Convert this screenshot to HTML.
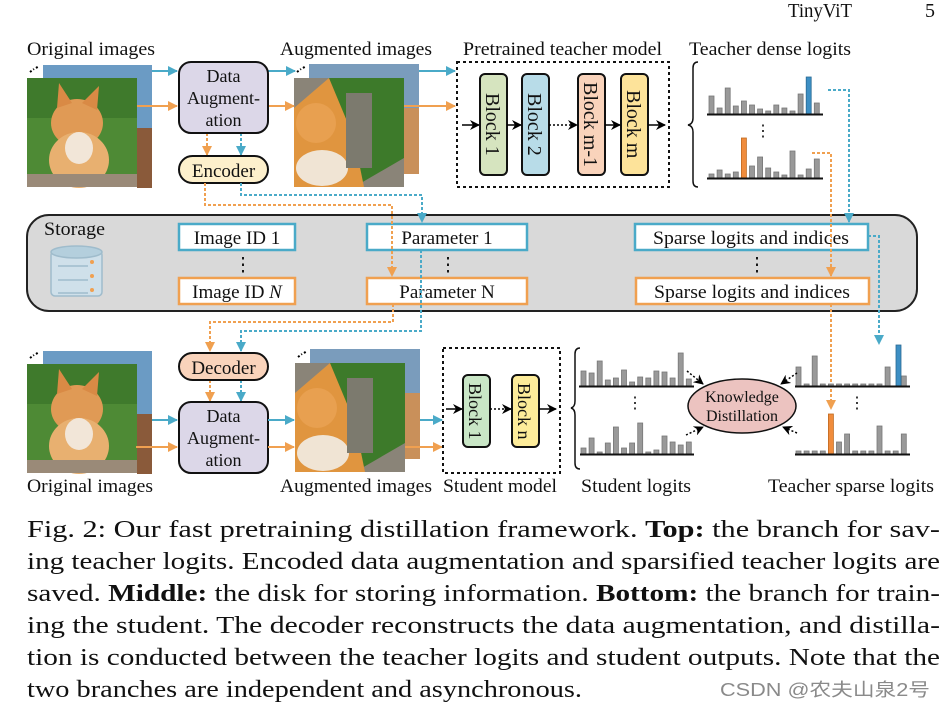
<!DOCTYPE html>
<html><head><meta charset="utf-8"><style>
html,body{margin:0;padding:0;background:#fff;}
svg{display:block;}
text{font-family:"Liberation Serif","Noto Serif CJK SC",serif;fill:#111;}
</style></head><body>
<svg width="946" height="707" viewBox="0 0 946 707" xmlns="http://www.w3.org/2000/svg">
<defs>
<marker id="mb" markerWidth="10" markerHeight="10" refX="9" refY="5" orient="auto" markerUnits="userSpaceOnUse"><path d="M0,0 L10,5 L0,10 z" fill="#4aaac8"/></marker>
<marker id="mo" markerWidth="10" markerHeight="10" refX="9" refY="5" orient="auto" markerUnits="userSpaceOnUse"><path d="M0,0 L10,5 L0,10 z" fill="#f0a050"/></marker>
<marker id="mk" markerWidth="10" markerHeight="10" refX="9" refY="5" orient="auto" markerUnits="userSpaceOnUse"><path d="M0,0 L10,5 L0,10 L3,5 z" fill="#000"/></marker>
<g id="orig">
  <rect x="16" y="-13" width="109" height="108" fill="#6b9bc4"/>
  <rect x="110" y="50" width="15" height="60" fill="#8a5a3a"/>
  <rect x="0" y="0" width="110" height="109" fill="#4e8a35"/>
  <rect x="0" y="0" width="110" height="40" fill="#3f7a2c"/>
  <ellipse cx="50" cy="45" rx="26" ry="24" fill="#e09a55"/>
  <path d="M30,30 L32,5 L45,25 Z M55,25 L72,8 L70,32 Z" fill="#d98a45"/>
  <ellipse cx="52" cy="82" rx="30" ry="28" fill="#e8b070"/>
  <ellipse cx="52" cy="70" rx="14" ry="16" fill="#f2e6d8"/>
  <rect x="0" y="96" width="110" height="13" fill="#9a8a78"/>
  <path d="M3,-6 l4,-3 M9,-10 l3,-2" stroke="#000" stroke-width="2" stroke-dasharray="2,2"/>
</g>
<g id="aug">
  <rect x="15" y="-14" width="110" height="110" fill="#7a9cbc"/>
  <rect x="110" y="30" width="15" height="66" fill="#c9905a"/>
  <rect x="0" y="0" width="110" height="109" fill="#8a8478"/>
  <path d="M35,0 L110,0 L110,80 L60,109 L0,109 L0,50 Z" fill="#3d7a2a"/>
  <path d="M0,30 L35,0 L60,60 L70,109 L0,109 Z" fill="#e0953f"/>
  <ellipse cx="22" cy="45" rx="20" ry="20" fill="#e8a050"/>
  <ellipse cx="28" cy="90" rx="26" ry="18" fill="#f0e4d4"/>
  <rect x="52" y="15" width="26" height="75" fill="#7c7a6e"/>
  <path d="M3,-6 l4,-3 M9,-10 l3,-2" stroke="#000" stroke-width="2" stroke-dasharray="2,2"/>
</g>
</defs>

<!-- header -->
<text x="788" y="17" font-size="20" textLength="64" lengthAdjust="spacingAndGlyphs">TinyViT</text>
<text x="925" y="17" font-size="20">5</text>

<!-- top labels -->
<g font-size="19" lengthAdjust="spacingAndGlyphs">
<text x="27" y="55" textLength="128" lengthAdjust="spacingAndGlyphs">Original images</text>
<text x="280" y="55" textLength="152" lengthAdjust="spacingAndGlyphs">Augmented images</text>
<text x="463" y="55" textLength="199" lengthAdjust="spacingAndGlyphs">Pretrained teacher model</text>
<text x="689" y="55" textLength="162" lengthAdjust="spacingAndGlyphs">Teacher dense logits</text>
</g>

<use href="#orig" x="27" y="78"/>
<use href="#aug" x="294" y="78"/>

<!-- top arrows -->
<g stroke-width="2" fill="none">
<line x1="152" y1="71" x2="177" y2="71" stroke="#4aaac8" marker-end="url(#mb)"/>
<line x1="137" y1="106" x2="177" y2="106" stroke="#f0a050" marker-end="url(#mo)"/>
<line x1="268" y1="71" x2="295" y2="71" stroke="#4aaac8" marker-end="url(#mb)"/>
<line x1="268" y1="106" x2="294" y2="106" stroke="#f0a050" marker-end="url(#mo)"/>
<line x1="419" y1="71" x2="455" y2="71" stroke="#4aaac8" marker-end="url(#mb)"/>
<line x1="404" y1="106" x2="455" y2="106" stroke="#f0a050" marker-end="url(#mo)"/>
<line x1="207" y1="133" x2="207" y2="155" stroke="#f0a050" stroke-dasharray="3,2" marker-end="url(#mo)"/>
<line x1="241" y1="133" x2="241" y2="155" stroke="#4aaac8" stroke-dasharray="3,2" marker-end="url(#mb)"/>
</g>

<rect x="179" y="62" width="89" height="71" rx="12" fill="#dcd7e8" stroke="#111" stroke-width="2"/>
<text x="223.5" y="82" font-size="18" text-anchor="middle">Data</text>
<text x="223.5" y="104" font-size="18" text-anchor="middle">Augment-</text>
<text x="223.5" y="126" font-size="18" text-anchor="middle">ation</text>
<rect x="179" y="156" width="89" height="27" rx="13.5" fill="#fdf0cc" stroke="#111" stroke-width="2"/>
<text x="223.5" y="177" font-size="19" text-anchor="middle">Encoder</text>

<!-- teacher model -->
<rect x="457" y="62" width="212" height="125" fill="none" stroke="#111" stroke-width="2" stroke-dasharray="3,3"/>
<rect x="480" y="74" width="27" height="101" rx="5" fill="#d6e4bf" stroke="#111" stroke-width="2"/>
<rect x="522" y="74" width="27" height="101" rx="5" fill="#b8dce8" stroke="#111" stroke-width="2"/>
<rect x="578" y="74" width="27" height="101" rx="5" fill="#f9d3bb" stroke="#111" stroke-width="2"/>
<rect x="621" y="74" width="27" height="101" rx="5" fill="#fde39a" stroke="#111" stroke-width="2"/>
<g font-size="20">
<text transform="translate(486,93) rotate(90)">Block 1</text>
<text transform="translate(528,93) rotate(90)">Block 2</text>
<text transform="translate(584,82) rotate(90)">Block m-1</text>
<text transform="translate(627,90) rotate(90)">Block m</text>
</g>
<g stroke="#000" stroke-width="1.5" fill="none">
<line x1="462" y1="125" x2="479" y2="125" marker-end="url(#mk)"/>
<line x1="507" y1="125" x2="521" y2="125" marker-end="url(#mk)"/>
<line x1="549" y1="125" x2="577" y2="125" stroke-dasharray="2,2" marker-end="url(#mk)"/>
<line x1="605" y1="125" x2="620" y2="125" marker-end="url(#mk)"/>
<line x1="648" y1="125" x2="665" y2="125" marker-end="url(#mk)"/>
</g>
<path d="M698,62 q-5,0 -5,6 v50 q0,6 -5,7 q5,1 5,7 v49 q0,6 5,6" fill="none" stroke="#111" stroke-width="1.5"/>

<!-- dense bars top -->
<g fill="#999" stroke="#777" stroke-width="0.8">
<rect x="709" y="96" width="5" height="18"/><rect x="717.1" y="108" width="5" height="6"/><rect x="725.2" y="88" width="5" height="26"/><rect x="733.3" y="106" width="5" height="8"/><rect x="741.4" y="101" width="5" height="13"/><rect x="749.5" y="105" width="5" height="9"/><rect x="757.6" y="109" width="5" height="5"/><rect x="765.7" y="111" width="5" height="3"/><rect x="773.8" y="105" width="5" height="9"/><rect x="781.9" y="108" width="5" height="6"/><rect x="790" y="111" width="5" height="3"/><rect x="798.1" y="94" width="5" height="20"/><rect x="814.3" y="103" width="5" height="11"/>
<rect x="709" y="174" width="5" height="4"/><rect x="717.1" y="170" width="5" height="8"/><rect x="725.2" y="174" width="5" height="4"/><rect x="733.3" y="172" width="5" height="6"/><rect x="749.5" y="166" width="5" height="12"/><rect x="757.6" y="157" width="5" height="21"/><rect x="765.7" y="168" width="5" height="10"/><rect x="773.8" y="172" width="5" height="6"/><rect x="781.9" y="175" width="5" height="3"/><rect x="790" y="151" width="5" height="27"/><rect x="798.1" y="175" width="5" height="3"/><rect x="806.2" y="169" width="5" height="9"/><rect x="814.3" y="159" width="5" height="19"/>
</g>
<rect x="806.2" y="77" width="5" height="37" fill="#3d8fc4" stroke="#2a6a94" stroke-width="0.8"/>
<rect x="741.4" y="138" width="5" height="40" fill="#f08c3c" stroke="#c06a20" stroke-width="0.8"/>
<line x1="707" y1="114.5" x2="823" y2="114.5" stroke="#111" stroke-width="2"/>
<line x1="707" y1="178.5" x2="823" y2="178.5" stroke="#111" stroke-width="2"/>
<text x="763" y="136" font-size="16" text-anchor="middle">⋮</text>

<!-- storage -->
<rect x="27" y="215" width="890" height="96" rx="22" fill="#d9d9d9" stroke="#222" stroke-width="2"/>
<text x="44" y="235" font-size="19" textLength="61" lengthAdjust="spacingAndGlyphs">Storage</text>
<g fill="#cfe0ea" stroke="#9fbccc" stroke-width="1.5">
<rect x="51" y="251" width="51" height="45" rx="4"/>
<ellipse cx="76.5" cy="252" rx="25.5" ry="6" fill="#b4cfdd"/>
<line x1="58" y1="266" x2="88" y2="266"/><line x1="58" y1="280" x2="88" y2="280"/><line x1="58" y1="293" x2="88" y2="293"/>
</g>
<circle cx="92" cy="262" r="2" fill="#f0a050"/><circle cx="92" cy="276" r="2" fill="#f0a050"/><circle cx="92" cy="290" r="2" fill="#f0a050"/>

<g fill="#fff" stroke-width="2.5">
<rect x="179" y="224" width="116" height="26" stroke="#4aaac8"/>
<rect x="179" y="278" width="116" height="26" stroke="#f0a050"/>
<rect x="367" y="224" width="160" height="26" stroke="#4aaac8"/>
<rect x="367" y="278" width="160" height="26" stroke="#f0a050"/>
<rect x="635" y="224" width="233" height="26" stroke="#4aaac8"/>
<rect x="636" y="278" width="233" height="26" stroke="#f0a050"/>
</g>
<g font-size="19" text-anchor="middle">
<text x="237" y="244">Image ID 1</text>
<text x="237" y="298">Image ID <tspan font-style="italic">N</tspan></text>
<text x="447" y="244">Parameter 1</text>
<text x="447" y="298">Parameter N</text>
<text x="751" y="244" textLength="196" lengthAdjust="spacingAndGlyphs">Sparse logits and indices</text>
<text x="752" y="298" textLength="196" lengthAdjust="spacingAndGlyphs">Sparse logits and indices</text>
<text x="243" y="271">⋮</text><text x="448" y="271">⋮</text><text x="757" y="271">⋮</text>
</g>

<!-- dashed connectors -->
<g fill="none" stroke-width="2" stroke-dasharray="3,2">
<path d="M205,183 V205 H392 V276" stroke="#f0a050" marker-end="url(#mo)"/>
<path d="M241,183 V195 H422 V222" stroke="#4aaac8" marker-end="url(#mb)"/>
<path d="M393,304 V322 H210 V351" stroke="#f0a050" marker-end="url(#mo)"/>
<path d="M421,250 V331 H241 V351" stroke="#4aaac8" marker-end="url(#mb)"/>
<path d="M828,90 H849 V222" stroke="#4aaac8" marker-end="url(#mb)"/>
<path d="M812,153 H831 V276" stroke="#f0a050" marker-end="url(#mo)"/>
<path d="M831,304 V409" stroke="#f0a050" marker-end="url(#mo)"/>
<path d="M868,236 H879 V344" stroke="#4aaac8" marker-end="url(#mb)"/>
<line x1="210" y1="380" x2="210" y2="401" stroke="#f0a050" marker-end="url(#mo)"/>
<line x1="241" y1="380" x2="241" y2="401" stroke="#4aaac8" marker-end="url(#mb)"/>
</g>

<!-- bottom -->
<rect x="179" y="353" width="89" height="27" rx="13.5" fill="#f9d3bb" stroke="#111" stroke-width="2"/>
<text x="223.5" y="374" font-size="19" text-anchor="middle">Decoder</text>
<rect x="179" y="402" width="89" height="71" rx="12" fill="#dcd7e8" stroke="#111" stroke-width="2"/>
<text x="223.5" y="422" font-size="18" text-anchor="middle">Data</text>
<text x="223.5" y="444" font-size="18" text-anchor="middle">Augment-</text>
<text x="223.5" y="466" font-size="18" text-anchor="middle">ation</text>

<use href="#orig" x="27" y="364"/>
<use href="#aug" x="295" y="363"/>

<g stroke-width="2" fill="none">
<line x1="152" y1="420" x2="177" y2="420" stroke="#4aaac8" marker-end="url(#mb)"/>
<line x1="136" y1="447" x2="177" y2="447" stroke="#f0a050" marker-end="url(#mo)"/>
<line x1="268" y1="420" x2="294" y2="420" stroke="#4aaac8" marker-end="url(#mb)"/>
<line x1="268" y1="447" x2="294" y2="447" stroke="#f0a050" marker-end="url(#mo)"/>
<line x1="420" y1="420" x2="442" y2="420" stroke="#4aaac8" marker-end="url(#mb)"/>
<line x1="405" y1="447" x2="442" y2="447" stroke="#f0a050" marker-end="url(#mo)"/>
</g>

<rect x="443" y="348" width="117" height="125" fill="none" stroke="#111" stroke-width="2" stroke-dasharray="3,3"/>
<rect x="463" y="375" width="27" height="72" rx="5" fill="#c9e6c6" stroke="#111" stroke-width="2"/>
<rect x="512" y="375" width="27" height="72" rx="5" fill="#fdec9a" stroke="#111" stroke-width="2"/>
<text transform="translate(469,383) rotate(90)" font-size="18">Block 1</text>
<text transform="translate(518,383) rotate(90)" font-size="18">Block n</text>
<g stroke="#000" stroke-width="1.5" fill="none">
<line x1="446" y1="409" x2="462" y2="409" marker-end="url(#mk)"/>
<line x1="490" y1="409" x2="511" y2="409" stroke-dasharray="2,2" marker-end="url(#mk)"/>
<line x1="539" y1="409" x2="556" y2="409" marker-end="url(#mk)"/>
</g>
<path d="M580,348 q-5,0 -5,6 v47 q0,6 -4,7 q4,1 4,7 v48 q0,6 5,6" fill="none" stroke="#111" stroke-width="1.5"/>

<!-- student bars -->
<g fill="#999" stroke="#777" stroke-width="0.8">
<rect x="581" y="371" width="5" height="15"/><rect x="589.1" y="373" width="5" height="13"/><rect x="597.2" y="361" width="5" height="25"/><rect x="605.3" y="380" width="5" height="6"/><rect x="613.4" y="378" width="5" height="8"/><rect x="621.5" y="370" width="5" height="16"/><rect x="629.6" y="382" width="5" height="4"/><rect x="637.7" y="377" width="5" height="9"/><rect x="645.8" y="378" width="5" height="8"/><rect x="653.9" y="371" width="5" height="15"/><rect x="662" y="372" width="5" height="14"/><rect x="670.1" y="378" width="5" height="8"/><rect x="678.2" y="353" width="5" height="33"/><rect x="686.3" y="379" width="5" height="7"/>
<rect x="581" y="448" width="5" height="6"/><rect x="589.1" y="438" width="5" height="16"/><rect x="597.2" y="452" width="5" height="2"/><rect x="605.3" y="443" width="5" height="11"/><rect x="613.4" y="427" width="5" height="27"/><rect x="621.5" y="448" width="5" height="6"/><rect x="629.6" y="443" width="5" height="11"/><rect x="637.7" y="423" width="5" height="31"/><rect x="645.8" y="452" width="5" height="2"/><rect x="653.9" y="450" width="5" height="4"/><rect x="662" y="436" width="5" height="18"/><rect x="670.1" y="442" width="5" height="12"/><rect x="678.2" y="445" width="5" height="9"/><rect x="686.3" y="442" width="5" height="12"/>
<rect x="796" y="367" width="5" height="19"/><rect x="804.1" y="384" width="5" height="2"/><rect x="812.2" y="356" width="5" height="30"/><rect x="820.3" y="384" width="5" height="2"/><rect x="828.4" y="384" width="5" height="2"/><rect x="836.5" y="384" width="5" height="2"/><rect x="844.6" y="384" width="5" height="2"/><rect x="852.7" y="384" width="5" height="2"/><rect x="860.8" y="384" width="5" height="2"/><rect x="868.9" y="384" width="5" height="2"/><rect x="877" y="384" width="5" height="2"/><rect x="885.1" y="367" width="5" height="19"/><rect x="901.3" y="376" width="5" height="10"/>
<rect x="796" y="451" width="5" height="3"/><rect x="804.1" y="451" width="5" height="3"/><rect x="812.2" y="451" width="5" height="3"/><rect x="820.3" y="451" width="5" height="3"/><rect x="836.5" y="442" width="5" height="12"/><rect x="844.6" y="434" width="5" height="20"/><rect x="852.7" y="451" width="5" height="3"/><rect x="860.8" y="451" width="5" height="3"/><rect x="868.9" y="451" width="5" height="3"/><rect x="877" y="426" width="5" height="28"/><rect x="885.1" y="451" width="5" height="3"/><rect x="893.2" y="451" width="5" height="3"/><rect x="901.3" y="434" width="5" height="20"/>
</g>
<rect x="896" y="345" width="5" height="41" fill="#3d8fc4" stroke="#2a6a94" stroke-width="0.8"/>
<rect x="828.4" y="414" width="5" height="40" fill="#f08c3c" stroke="#c06a20" stroke-width="0.8"/>
<g stroke="#111" stroke-width="2">
<line x1="579" y1="386.5" x2="694" y2="386.5"/><line x1="580" y1="454.5" x2="694" y2="454.5"/>
<line x1="795" y1="386.5" x2="910" y2="386.5"/><line x1="795" y1="454.5" x2="910" y2="454.5"/>
</g>
<text x="635" y="408" font-size="16" text-anchor="middle">⋮</text>
<text x="857" y="408" font-size="16" text-anchor="middle">⋮</text>

<ellipse cx="742" cy="406" rx="54" ry="27" fill="#ecc3c0" stroke="#111" stroke-width="1.5"/>
<text x="742" y="402" font-size="16" text-anchor="middle">Knowledge</text>
<text x="742" y="421" font-size="16" text-anchor="middle">Distillation</text>
<g stroke="#000" stroke-width="1.5" fill="none" stroke-dasharray="2,2">
<line x1="687" y1="371" x2="703" y2="384" marker-end="url(#mk)"/>
<line x1="686" y1="435" x2="703" y2="427" marker-end="url(#mk)"/>
<line x1="797" y1="373" x2="781" y2="384" marker-end="url(#mk)"/>
<line x1="797" y1="433" x2="783" y2="427" marker-end="url(#mk)"/>
</g>

<!-- bottom labels -->
<g font-size="19">
<text x="27" y="492" textLength="126" lengthAdjust="spacingAndGlyphs">Original images</text>
<text x="280" y="492" textLength="152" lengthAdjust="spacingAndGlyphs">Augmented images</text>
<text x="443" y="492" textLength="114" lengthAdjust="spacingAndGlyphs">Student model</text>
<text x="581" y="492" textLength="110" lengthAdjust="spacingAndGlyphs">Student logits</text>
<text x="768" y="492" textLength="166" lengthAdjust="spacingAndGlyphs">Teacher sparse logits</text>
</g>

<!-- caption -->
<g font-size="24">
<text x="27" y="537" textLength="913" lengthAdjust="spacingAndGlyphs">Fig. 2: Our fast pretraining distillation framework. <tspan font-weight="bold">Top:</tspan> the branch for sav-</text>
<text x="27" y="569" textLength="913" lengthAdjust="spacingAndGlyphs">ing teacher logits. Encoded data augmentation and sparsified teacher logits are</text>
<text x="27" y="601" textLength="913" lengthAdjust="spacingAndGlyphs">saved. <tspan font-weight="bold">Middle:</tspan> the disk for storing information. <tspan font-weight="bold">Bottom:</tspan> the branch for train-</text>
<text x="27" y="633" textLength="913" lengthAdjust="spacingAndGlyphs">ing the student. The decoder reconstructs the data augmentation, and distilla-</text>
<text x="27" y="665" textLength="913" lengthAdjust="spacingAndGlyphs">tion is conducted between the teacher logits and student outputs. Note that the</text>
<text x="27" y="697" textLength="555" lengthAdjust="spacingAndGlyphs">two branches are independent and asynchronous.</text>
</g>
<text x="720" y="696" font-size="18" textLength="210" lengthAdjust="spacingAndGlyphs" style="fill:#8a8a8a;font-family:'Liberation Sans','Noto Sans CJK SC',sans-serif">CSDN @农夫山泉2号</text>
</svg>
</body></html>
